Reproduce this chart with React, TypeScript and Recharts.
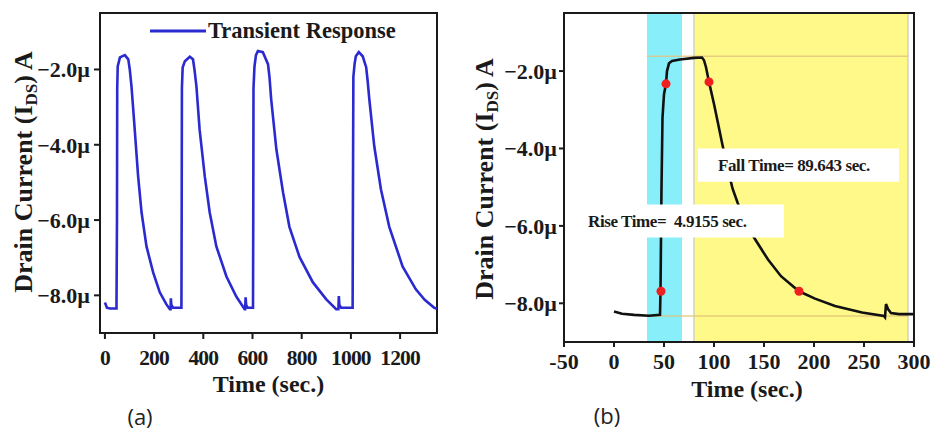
import React from "react";
import {
  ComposedChart,
  Line,
  Scatter,
  XAxis,
  YAxis,
  ReferenceArea,
  ReferenceLine,
  Legend,
  Label,
} from "recharts";

// (a) transient response, four light pulses
const timeA = [
  0, 8, 20, 47, 49, 50, 52, 61, 81, 95, 101, 108, 115, 122, 135, 149, 169, 196, 223, 250, 264, 267, 268, 270, 277, 311,
  312, 313, 316, 325, 345, 358, 364, 372, 385, 406, 426, 453, 494, 534, 568, 570, 572, 574, 580, 602,
  603, 604, 608, 614, 622, 642, 663, 669, 676, 697, 724, 750, 791, 845, 899, 940, 949, 951, 953, 960, 1007,
  1008, 1010, 1015, 1020, 1032, 1048, 1062, 1068, 1075, 1095, 1122, 1156, 1210, 1264, 1300, 1339, 1350,
];
const currentA = [
  -8.19, -8.33, -8.35, -8.35, -6.0, -2.5, -1.92, -1.68, -1.62, -1.73, -2.0, -2.45, -3.05, -3.67, -4.84, -5.8, -6.7, -7.39, -7.92, -8.24, -8.37, -8.37, -8.08, -8.25, -8.33, -8.33,
  -6.0, -2.5, -1.95, -1.78, -1.66, -1.73, -2.0, -2.45, -3.6, -4.84, -5.8, -6.7, -7.5, -8.03, -8.37, -8.37, -8.05, -8.25, -8.33, -8.33,
  -6.0, -2.5, -1.92, -1.62, -1.51, -1.54, -1.86, -2.2, -2.8, -4.12, -5.26, -6.18, -6.98, -7.65, -8.1, -8.37, -8.37, -8.02, -8.25, -8.33, -8.33,
  -6.0, -2.2, -1.85, -1.65, -1.54, -1.65, -1.94, -2.3, -2.8, -4.04, -5.18, -6.18, -7.23, -7.84, -8.12, -8.33, -8.36,
];

// (b) single pulse, rise / fall
const timeB = [
  0, 8, 20, 35, 46, 46.5, 47.5, 48.5, 50, 52, 53, 55, 58, 66, 80, 88, 90, 92, 95, 100, 104, 108, 113, 118.6, 123.6, 130, 140,
  154, 167, 185, 201, 221, 248, 270, 271, 272, 274, 277, 285, 300,
];
const currentB = [
  -8.21, -8.27, -8.3, -8.32, -8.3, -7.69, -5.0, -3.2, -2.6, -2.33, -2.0, -1.8, -1.74, -1.7, -1.66, -1.65, -1.72, -1.9, -2.28, -2.85, -3.35, -3.85, -4.45, -5.04, -5.4, -5.8, -6.3,
  -6.87, -7.3, -7.69, -7.88, -8.07, -8.24, -8.33, -8.36, -8.02, -8.15, -8.25, -8.28, -8.28,
];
const markT = [47, 52, 95, 185];
const markV = [-7.69, -2.33, -2.28, -7.69];

const ticksA = [0, 200, 400, 600, 800, 1000, 1200];
const ticksB = [-50, 0, 50, 100, 150, 200, 250, 300];
const ticksY = [-8, -6, -4, -2];

const riseBand = [33, 68];
const fallBand = [80, 294];
const levels = [-1.62, -8.33];

const dataA = timeA.map((t, i) => ({ t, v: currentA[i] }));
const dataB = timeB.map((t, i) => ({ t, v: currentB[i] }));
const marks = markT.map((t, i) => ({ t, v: markV[i] }));

const FONT = "'Liberation Serif', 'Times New Roman', serif";
const INK = "#1a1a1a";
const tickStyle = { fontFamily: FONT, fontWeight: "bold", fontSize: 22, fill: INK };
const xTickStyle = { ...tickStyle, fontSize: 21.5, letterSpacing: -0.8 };
const axisStyle = { stroke: INK, strokeWidth: 2 };
const fmtY = (v: number) => `\u2212${Math.abs(v).toFixed(1)}\u00b5`;

const YTitle = ({ x, y }: { x: number; y: number }) => (
  <text
    x={x}
    y={y}
    transform={`rotate(-90 ${x} ${y})`}
    textAnchor="middle"
    fontFamily={FONT}
    fontWeight="bold"
    fontSize={26}
    fill={INK}
  >
    Drain Current (I
    <tspan fontSize={17} dy={5}>
      DS
    </tspan>
    <tspan dy={-5}>) A</tspan>
  </text>
);

const XTitle = (props: any, dy: number, tag: string, tagX: number, tagDy: number) => {
  const vb = props.viewBox;
  return (
    <g>
      <text
        x={vb.x + vb.width / 2 + (tag === "(b)" ? 8 : 0)}
        y={vb.y + dy}
        textAnchor="middle"
        fontFamily={FONT}
        fontWeight="bold"
        fontSize={24}
        fill={INK}
      >
        Time (sec.)
      </text>
      <text x={tagX} y={vb.y + dy + tagDy} textAnchor="middle" fontFamily="'Open Sans', sans-serif" fontSize={22} fill="#222">
        {tag}
      </text>
    </g>
  );
};

const LegendA = () => (
  <div style={{ display: "flex", alignItems: "center", fontFamily: FONT, fontWeight: "bold", fontSize: 22.5, color: INK }}>
    <svg width={58} height={6}>
      <line x1={0} y1={3} x2={56} y2={3} stroke="#2a2ad0" strokeWidth={3} />
    </svg>
    <span>Transient Response</span>
  </div>
);

const boxLabel = (value: string, offset: number) => ({
  value,
  position: "insideLeft" as const,
  offset,
  fill: INK,
  fontSize: 17,
  fontWeight: "bold",
  fontFamily: FONT,
  letterSpacing: -0.4,
});

export default function App() {
  return (
    <div style={{ position: "absolute", left: 0, top: 0, width: 932, height: 433, background: "#fff" }}>
      <div style={{ position: "absolute", left: 0, top: 0 }}>
        <ComposedChart width={460} height={433} margin={{ top: 13, right: 23, bottom: 0, left: 0 }}>
          <XAxis
            type="number"
            dataKey="t"
            domain={[-20, 1350]}
            ticks={ticksA}
            allowDataOverflow
            height={100}
            tick={xTickStyle}
            tickSize={6}
            tickMargin={11}
            axisLine={axisStyle}
            tickLine={axisStyle}
          >
            <Label content={(p: any) => XTitle(p, 59, "(a)", 140, 33)} />
          </XAxis>
          <YAxis
            type="number"
            domain={[-9, -0.5]}
            ticks={ticksY}
            allowDataOverflow
            width={100}
            tick={tickStyle}
            tickFormatter={fmtY}
            tickSize={6}
            tickMargin={4}
            axisLine={axisStyle}
            tickLine={axisStyle}
          >
            <Label content={() => <YTitle x={32} y={172} />} />
          </YAxis>
          <Line
            data={dataA}
            dataKey="v"
            name="Transient Response"
            type="linear"
            stroke="#2a2ad0"
            strokeWidth={2.6}
            dot={false}
            isAnimationActive={false}
          />
          <ReferenceArea x1={-20} x2={1350} y1={-9} y2={-0.5} fill="none" stroke={INK} strokeWidth={2} />
          <Legend
            verticalAlign="middle"
            align="center"
            content={() => <LegendA />}
            wrapperStyle={{ position: "absolute", top: 18, left: 150, width: "auto" }}
          />
        </ComposedChart>
      </div>

      <div style={{ position: "absolute", left: 460, top: 0 }}>
        <ComposedChart width={472} height={433} margin={{ top: 13, right: 18, bottom: 0, left: 0 }}>
          <XAxis
            type="number"
            dataKey="t"
            domain={[-50, 300]}
            ticks={ticksB}
            allowDataOverflow
            height={91}
            tick={tickStyle}
            tickSize={5}
            tickMargin={6}
            axisLine={axisStyle}
            tickLine={axisStyle}
          >
            <Label content={(p: any) => XTitle(p, 55, "(b)", 147, 27)} />
          </XAxis>
          <YAxis
            type="number"
            domain={[-9, -0.5]}
            ticks={ticksY}
            allowDataOverflow
            width={104}
            tick={tickStyle}
            tickFormatter={fmtY}
            tickSize={5}
            tickMargin={2}
            axisLine={axisStyle}
            tickLine={axisStyle}
          >
            <Label content={() => <YTitle x={33} y={179} />} />
          </YAxis>
          <ReferenceArea x1={riseBand[0]} x2={riseBand[1]} y1={-9} y2={-0.5} fill="#88eefa" fillOpacity={1} />
          <ReferenceArea
            x1={fallBand[0]}
            x2={fallBand[1]}
            y1={-9}
            y2={-0.5}
            fill="#fff98a"
            fillOpacity={1}
            stroke="#d4d4c0"
            strokeWidth={1.5}
          />
          {levels.map((y) => (
            <ReferenceLine
              key={y}
              segment={[
                { x: riseBand[0], y },
                { x: fallBand[1], y },
              ]}
              stroke="#e2c27a"
              strokeWidth={1.5}
              strokeOpacity={0.8}
            />
          ))}
          <Line
            data={dataB}
            dataKey="v"
            type="linear"
            stroke="#111"
            strokeWidth={2.6}
            dot={false}
            isAnimationActive={false}
          />
          <Scatter data={marks} dataKey="v" fill="#f02020" shape="circle" isAnimationActive={false} />
          <ReferenceArea
            x1={84}
            x2={285}
            y1={-4.86}
            y2={-4.0}
            fill="#ffffff"
            fillOpacity={1}
            zIndex={900}
            label={boxLabel("Fall Time= 89.643 sec.", 20)}
          />
          <ReferenceArea
            x1={-29}
            x2={170}
            y1={-6.3}
            y2={-5.45}
            fill="#ffffff"
            fillOpacity={1}
            zIndex={900}
            label={boxLabel("Rise Time=\u00a0 4.9155 sec.", 3)}
          />
          <ReferenceArea x1={-50} x2={300} y1={-9} y2={-0.5} fill="none" stroke={INK} strokeWidth={2} zIndex={950} />
        </ComposedChart>
      </div>
    </div>
  );
}
